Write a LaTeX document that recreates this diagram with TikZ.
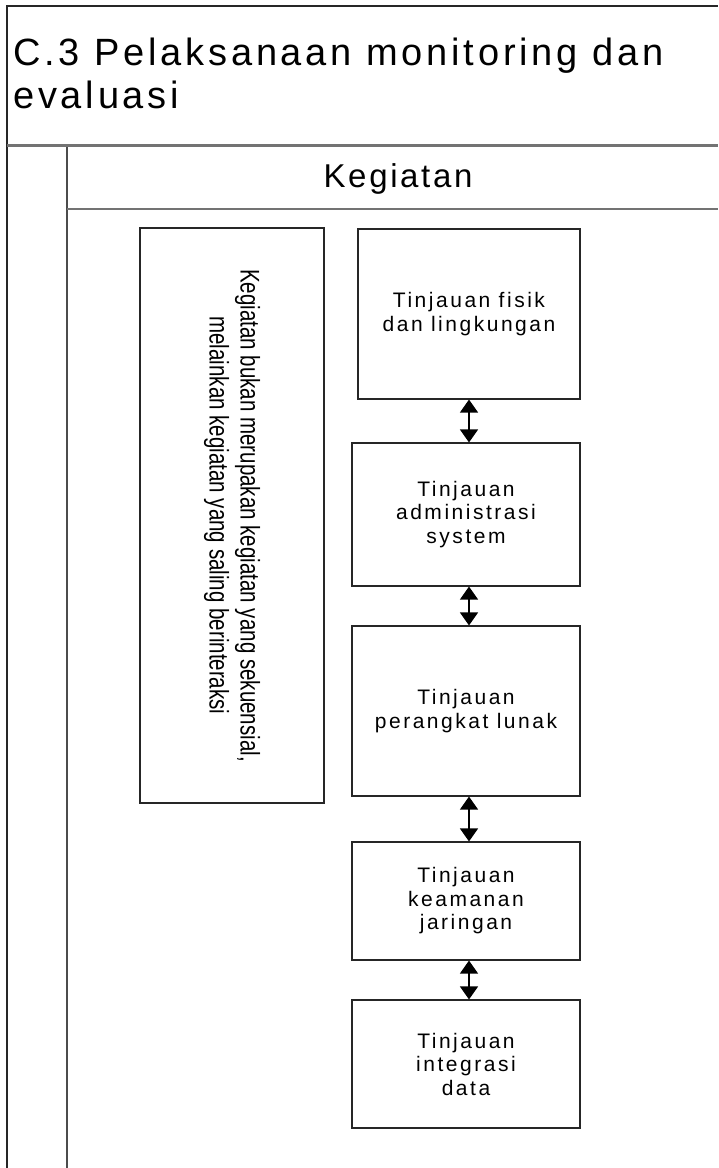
\documentclass[tikz,border=0pt]{standalone}
\usepackage{fontspec}
\setmainfont{Liberation Sans}
\newfontfamily\titlefont[LetterSpace=10]{Liberation Sans}
\newfontfamily\headfont[LetterSpace=8]{Liberation Sans}
\newfontfamily\boxfont[LetterSpace=12]{Liberation Sans}
\newfontfamily\notefont[FakeStretch=0.76]{Liberation Sans}
\usetikzlibrary{arrows.meta}

\tikzset{
  frameline/.style={draw=black!85, line width=1.3pt},
  laneline/.style={draw=black!70, line width=2pt},
  divider/.style={draw=black!55, line width=3pt},
  headline/.style={draw=black!55, line width=2pt},
  taskbox/.style={draw=black!85, line width=1.1pt, fill=white, inner sep=0pt,
    align=center, font=\boxfont\fontsize{21}{23.5}\selectfont},
  notebox/.style={draw=black!85, line width=1.1pt, inner sep=0pt, rotate=-90,
    align=center, font=\notefont\fontsize{27}{31}\selectfont},
  link/.style={line width=1.2pt,
    {Triangle[width=18pt,length=13pt]}-{Triangle[width=18pt,length=13pt]}},
}

\begin{document}
\begin{tikzpicture}[x=1pt, y=-1pt]
  \useasboundingbox (0,0) rectangle (718,1168);

  % pool frame and lanes
  \coordinate (frameTL) at (7,6);
  \draw[frameline] (7,1168) -- (frameTL) -- (718,6);
  \draw[divider] (7,145.5) -- (718,145.5);
  \draw[laneline] (67,147) -- (67,1168);
  \draw[headline] (67,209) -- (718,209);

  % titles (base anchor sits on the last line of a multi-line node)
  \node[anchor=base west, inner sep=0pt, align=left,
        font=\titlefont\fontsize{38}{43}\selectfont] (title) at (13,108)
        {C.3 Pelaksanaan monitoring dan\\evaluasi};
  \node[anchor=base, inner sep=0pt, font=\headfont\fontsize{33}{38}\selectfont]
        (lane) at (398,187) {Kegiatan};

  % note on the left
  \node[notebox, minimum width=575pt, minimum height=184pt] (note) at (232,515.5)
        {Kegiatan bukan merupakan kegiatan yang sekuensial,\\
         melainkan kegiatan yang saling berinteraksi};

  % review activities
  \node[taskbox, minimum width=222pt, minimum height=170pt] (b1) at (469,314)
        {Tinjauan fisik\\dan lingkungan};
  \node[taskbox, minimum width=228pt, minimum height=143pt] (b2) at (466,514.5)
        {Tinjauan\\administrasi\\system};
  \node[taskbox, minimum width=228pt, minimum height=170pt] (b3) at (466,711)
        {Tinjauan\\perangkat lunak};
  \node[taskbox, minimum width=228pt, minimum height=118pt] (b4) at (466,901)
        {Tinjauan\\keamanan\\jaringan};
  \node[taskbox, minimum width=228pt, minimum height=128pt] (b5) at (466,1064)
        {Tinjauan\\integrasi\\data};

  % two-way links between the activities
  \draw[link] (b1.south) -- (b1.south |- b2.north);
  \draw[link] (b1.south |- b2.south) -- (b1.south |- b3.north);
  \draw[link] (b1.south |- b3.south) -- (b1.south |- b4.north);
  \draw[link] (b1.south |- b4.south) -- (b1.south |- b5.north);
\end{tikzpicture}
\end{document}
